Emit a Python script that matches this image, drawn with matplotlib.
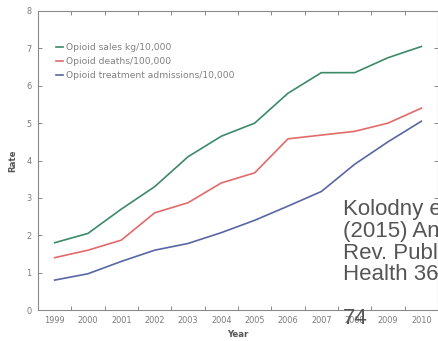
#!/usr/bin/env python3
"""
Opioid sales, deaths and treatment admissions in the US, 1999-2010.
"""

import numpy as np
import matplotlib.pyplot as plt
from matplotlib.ticker import FixedLocator

years = [1999, 2000, 2001, 2002, 2003, 2004, 2005, 2006, 2007, 2008, 2009, 2010]
sales = [1.8, 2.05, 2.7, 3.3, 4.1, 4.65, 5.0, 5.8, 6.35, 6.35, 6.75, 7.05]
deaths = [1.4, 1.6, 1.87, 2.6, 2.87, 3.4, 3.67, 4.58, 4.68, 4.78, 5.0, 5.4]
admissions = [0.8, 0.97, 1.3, 1.6, 1.78, 2.07, 2.4, 2.78, 3.17, 3.9, 4.5, 5.05]

series_labels = [
    "Opioid sales kg/10,000",
    "Opioid deaths/100,000",
    "Opioid treatment admissions/10,000",
]
series_colors = ["#3c8a68", "#e26a6a", "#5866a4"]
rate_ticks = [0, 1, 2, 3, 4, 5, 6, 7, 8]

citation = "Kolodny et al.\n(2015) Annu.\nRev. Public\nHealth 36: 559–\n\n74"

plt.rcParams["font.family"] = ["DejaVu Sans"]

fig = plt.figure(figsize=(4.38, 3.41), dpi=100)
ax = fig.add_axes([38 / 438, 31 / 341, 400 / 438, 299 / 341])

for values, label, color in zip([sales, deaths, admissions], series_labels, series_colors):
    ax.plot(years, values, color=color, lw=1.2, label=label)

ax.set_xlim(1998.5, 2010.5)
ax.set_ylim(0, 8)

# year labels sit between the tick marks
ax.set_xticks(years)
ax.set_xticklabels([str(y) for y in years])
ax.xaxis.set_minor_locator(FixedLocator(np.arange(1999.5, 2010.6, 1.0)))
ax.tick_params(axis="x", which="major", length=0, pad=4, labelsize=5.9, labelcolor="#7a7a7a")
ax.tick_params(axis="x", which="minor", direction="in", length=3, width=0.7,
               color="#888888", top=True, bottom=True)

ax.set_yticks(rate_ticks)
ax.tick_params(axis="y", which="major", direction="in", length=3, width=0.7,
               color="#888888", left=True, right=True, labelsize=5.9,
               labelcolor="#7a7a7a", pad=4.5)

for spine in ax.spines.values():
    spine.set_color("#8a8a8a")
    spine.set_linewidth(0.8)

ax.set_ylabel("Rate", fontsize=6.2, fontweight="bold", color="#555555", labelpad=7)
ax.set_xlabel("Year", fontsize=6.2, fontweight="bold", color="#555555", labelpad=4)

leg = ax.legend(loc="upper left", bbox_to_anchor=(0.035, 0.905), frameon=False,
                fontsize=6.6, handlelength=0.8, handletextpad=0.35, labelspacing=0.55,
                borderaxespad=0)
for text in leg.get_texts():
    text.set_color("#808080")

fig.text(343 / 438, 1 - 199 / 341, citation, fontsize=16, color="#555555",
         family="Liberation Sans", va="top", ha="left", linespacing=1.05)

fig.savefig("out.png", dpi=100)
